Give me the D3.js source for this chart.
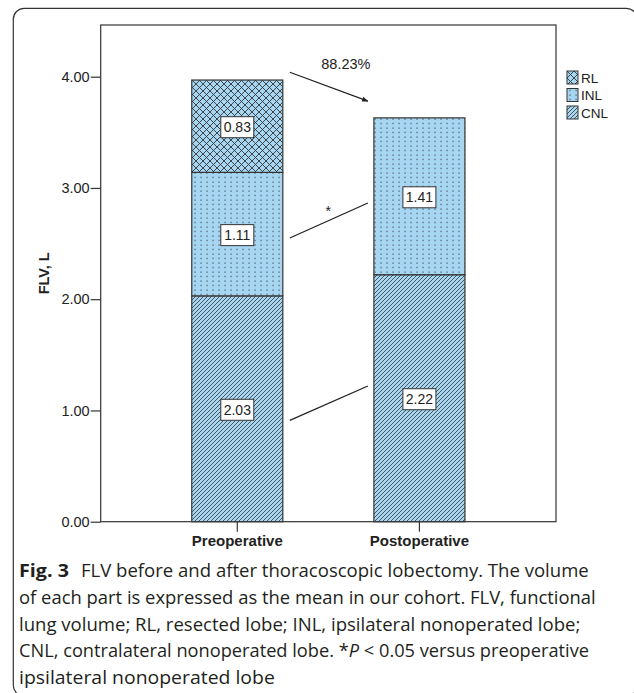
<!DOCTYPE html>
<html>
<head>
<meta charset="utf-8">
<script src="https://cdn.jsdelivr.net/npm/d3@7"></script>
<style>
  html, body { margin: 0; padding: 0; background: #fff; }
  svg { display: block; }
</style>
</head>
<body>
<div id="chart"></div>
<script>
const categories = ["Preoperative", "Postoperative"];
const seriesKeys = ["CNL", "INL", "RL"];
const cnlValues = [2.03, 2.22];
const inlValues = [1.11, 1.41];
const rlValues = [0.83, 0];
const yTicks = [0, 1, 2, 3, 4];
const legendOrder = ["RL", "INL", "CNL"];

// lines between the bars, in FLV units (start at left bar, end at right bar)
const linkFrom = [4.04, 2.55, 0.91];
const linkTo = [3.78, 2.865, 1.22];
const linkText = ["88.23%", "*", ""];
const linkArrow = [true, false, false];

const captionLines = [
    "FLV before and after thoracoscopic lobectomy. The volume",
    "of each part is expressed as the mean in our cohort. FLV, functional",
    "lung volume; RL, resected lobe; INL, ipsilateral nonoperated lobe;",
    "CNL, contralateral nonoperated lobe. *P < 0.05 versus preoperative",
    "ipsilateral nonoperated lobe"
];

const W = 634, H = 693;
const plot = {left: 100.7, right: 556, top: 25, bottom: 521.7};
const blue = "#a6d6f2", ink = "#333";
const chartFont = "Liberation Sans, Arial, sans-serif";

const data = categories.map((c, i) => ({cat: c, CNL: cnlValues[i], INL: inlValues[i], RL: rlValues[i]}));
const stacked = d3.stack().keys(seriesKeys)(data);

const svg = d3.select("#chart").append("svg")
    .attr("width", W).attr("height", H);

const defs = svg.append("defs");

const pCNL = defs.append("pattern").attr("id", "pat-CNL")
    .attr("patternUnits", "userSpaceOnUse").attr("width", 4).attr("height", 4);
pCNL.append("rect").attr("width", 4).attr("height", 4).attr("fill", blue);
pCNL.append("path").attr("d", "M-1,1L1,-1M0,4L4,0M3,5L5,3")
    .attr("stroke", ink).attr("stroke-width", 0.8);

const pINL = defs.append("pattern").attr("id", "pat-INL")
    .attr("patternUnits", "userSpaceOnUse").attr("width", 6).attr("height", 4.5);
pINL.append("rect").attr("width", 6).attr("height", 4.5).attr("fill", blue);
pINL.append("rect").attr("x", 2.5).attr("y", 1.5).attr("width", 1.1).attr("height", 1.1).attr("fill", ink);

const pRL = defs.append("pattern").attr("id", "pat-RL")
    .attr("patternUnits", "userSpaceOnUse").attr("width", 7).attr("height", 7);
pRL.append("rect").attr("width", 7).attr("height", 7).attr("fill", blue);
pRL.append("path").attr("d", "M-1,-1L8,8M8,-1L-1,8")
    .attr("stroke", ink).attr("stroke-width", 0.9);

defs.append("marker").attr("id", "arrow")
    .attr("viewBox", "0 0 10 10").attr("refX", 9).attr("refY", 5)
    .attr("markerWidth", 5).attr("markerHeight", 5).attr("orient", "auto")
    .append("path").attr("d", "M0,1L10,5L0,9Z").attr("fill", "#222");

// outer rounded frame of the figure
svg.append("rect")
    .attr("x", 13.3).attr("y", 8.3).attr("width", 624).attr("height", 688)
    .attr("rx", 11).attr("fill", "none").attr("stroke", "#333").attr("stroke-width", 1.2);

const x = d3.scaleBand()
    .domain(categories)
    .range([plot.left, plot.right])
    .padding(0.5);

const y = d3.scaleLinear()
    .domain([0, (plot.bottom - plot.top) / ((plot.bottom - 76.7) / 4)])
    .range([plot.bottom, plot.top]);

// plot frame
svg.append("rect")
    .attr("x", plot.left).attr("y", plot.top)
    .attr("width", plot.right - plot.left).attr("height", plot.bottom - plot.top)
    .attr("fill", "none").attr("stroke", "#333").attr("stroke-width", 1.2);

const yAxis = svg.append("g")
    .attr("transform", `translate(${plot.left},0)`)
    .call(d3.axisLeft(y).tickValues(yTicks).tickFormat(d3.format(".2f")).tickSize(10).tickSizeOuter(0));
yAxis.select(".domain").remove();
yAxis.selectAll("line").attr("stroke", "#333").attr("stroke-width", 1.2);
yAxis.selectAll("text").attr("font-family", chartFont)
    .attr("font-size", 14.5).attr("fill", "#222").attr("x", -11);

const xAxis = svg.append("g")
    .attr("transform", `translate(0,${plot.bottom})`)
    .call(d3.axisBottom(x).tickSize(10).tickSizeOuter(0));
xAxis.select(".domain").remove();
xAxis.selectAll("line").attr("stroke", "#333").attr("stroke-width", 1.2);
xAxis.selectAll("text").attr("font-family", chartFont)
    .attr("font-size", 15).attr("font-weight", "bold").attr("fill", "#222").attr("y", 13.5);

svg.append("text")
    .attr("transform", `translate(49,${(plot.top + plot.bottom) / 2}) rotate(-90)`)
    .attr("text-anchor", "middle")
    .attr("font-family", chartFont)
    .attr("font-size", 14.5).attr("font-weight", "bold").attr("fill", "#222")
    .text("FLV, L");

// stacked bars
const layers = svg.append("g").selectAll("g")
    .data(stacked)
    .join("g")
    .attr("fill", d => `url(#pat-${d.key})`);

layers.selectAll("rect")
    .data(d => d.filter(s => s[1] - s[0] > 0))
    .join("rect")
    .attr("x", d => x(d.data.cat))
    .attr("width", x.bandwidth())
    .attr("y", d => y(d[1]))
    .attr("height", d => y(d[0]) - y(d[1]))
    .attr("stroke", "#333").attr("stroke-width", 1.2);

// value boxes
const boxes = [];
stacked.forEach(layer => layer.forEach(s => {
    const v = s[1] - s[0];
    if (v > 0) boxes.push({cat: s.data.cat, v: v, mid: (s[0] + s[1]) / 2});
}));

const boxG = svg.append("g").selectAll("g")
    .data(boxes)
    .join("g")
    .attr("transform", d => `translate(${x(d.cat) + x.bandwidth() / 2},${y(d.mid) + 1})`);
boxG.append("rect")
    .attr("x", -16.5).attr("y", -10.5).attr("width", 33).attr("height", 21)
    .attr("fill", "#fff").attr("stroke", "#333").attr("stroke-width", 1);
boxG.append("text")
    .attr("text-anchor", "middle").attr("dy", "0.36em")
    .attr("font-family", chartFont)
    .attr("font-size", 14).attr("fill", "#222")
    .text(d => d.v.toFixed(2));

// connecting lines
const x0 = x(categories[0]) + x.bandwidth() + 7;
const x1 = x(categories[1]) - 6;
linkFrom.forEach((v, i) => {
    const ln = svg.append("line")
        .attr("x1", x0).attr("y1", y(v))
        .attr("x2", x1).attr("y2", y(linkTo[i]))
        .attr("stroke", "#222").attr("stroke-width", 1.3);
    if (linkArrow[i]) ln.attr("marker-end", "url(#arrow)");
});

svg.append("text")
    .attr("x", (x0 + x1) / 2 + 17).attr("y", y(linkFrom[0]) - 3)
    .attr("text-anchor", "middle")
    .attr("font-family", chartFont)
    .attr("font-size", 14.5).attr("fill", "#222")
    .text(linkText[0]);

svg.append("text")
    .attr("x", (x0 + x1) / 2 - 0.5).attr("y", (y(linkFrom[1]) + y(linkTo[1])) / 2 - 4)
    .attr("text-anchor", "middle")
    .attr("font-family", chartFont)
    .attr("font-size", 14).attr("fill", "#222")
    .text(linkText[1]);

// legend
const legend = svg.append("g").attr("transform", "translate(567,71)");
const li = legend.selectAll("g")
    .data(legendOrder)
    .join("g")
    .attr("transform", (d, i) => `translate(0,${i * 17.5})`);
li.append("rect")
    .attr("width", 11).attr("height", 13)
    .attr("fill", d => `url(#pat-${d})`)
    .attr("stroke", "#333").attr("stroke-width", 1);
li.append("text")
    .attr("x", 14).attr("y", 11.5)
    .attr("font-family", chartFont)
    .attr("font-size", 13.5).attr("fill", "#222")
    .text(d => d);

// caption: each piece is squeezed horizontally with a scale transform
const capFont = "Open Sans, Noto Sans, sans-serif";
const capLeft = 19, capBase = 577, capStep = 26.8;
const capWidths = [508, 577, 562, 570, 256];

function capText(str, italic, bold) {
    return svg.append("text")
        .attr("font-family", capFont).attr("font-size", 18.5)
        .attr("font-style", italic ? "italic" : "normal")
        .attr("font-weight", bold ? "bold" : "normal")
        .attr("fill", "#231f20")
        .style("white-space", "pre")
        .text(str);
}

function fitPieces(pieces, x0c, yPos, width) {
    const nodes = pieces.map(p => capText(p[0], p[1], p[2]));
    const natural = nodes.map(n => n.node().getComputedTextLength());
    const k = width / d3.sum(natural);
    let cx = x0c;
    nodes.forEach((n, j) => {
        n.attr("transform", `translate(${cx},${yPos}) scale(${k},1)`);
        cx += natural[j] * k;
    });
}

fitPieces([["Fig. 3", false, true]], capLeft, capBase, 50);

captionLines.forEach((line, i) => {
    const yPos = capBase + i * capStep;
    const x0c = i === 0 ? capLeft + 62 : capLeft;
    const pieces = line.includes("*P ")
        ? [[line.split("*P ")[0] + "*", false, false], ["P ", true, false], [line.split("*P ")[1], false, false]]
        : [[line, false, false]];
    fitPieces(pieces, x0c, yPos, capWidths[i]);
});
</script>
</body>
</html>
